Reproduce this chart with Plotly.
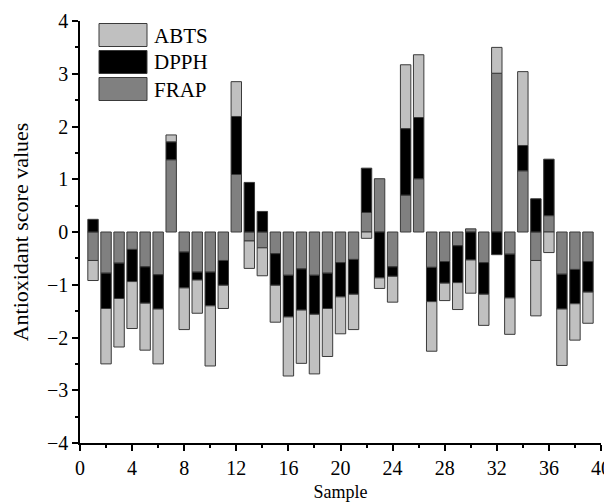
import plotly.graph_objects as go

samples = list(range(1, 40))
frap = [-0.54, -0.78, -0.59, -0.33, -0.66, -0.81, 1.37, -0.38, -0.76, -0.76,
        -0.54, 1.09, -0.17, -0.30, -0.41, -0.82, -0.70, -0.82, -0.78, -0.58,
        -0.52, 0.37, 1.01, -0.66, 0.70, 1.01, -0.67, -0.56, -0.26, 0.06,
        -0.58, 3.01, -0.42, 1.16, -0.54, 0.31, -0.80, -0.71, -0.56]
dpph = [0.24, -0.67, -0.67, -0.61, -0.69, -0.65, 0.34, -0.68, -0.15, -0.64,
        -0.47, 1.10, 0.94, 0.39, -0.60, -0.79, -0.78, -0.74, -0.67, -0.65,
        -0.66, 0.84, -0.87, -0.18, 1.26, 1.16, -0.65, -0.41, -0.70, -0.53,
        -0.60, -0.43, -0.83, 0.48, 0.63, 1.07, -0.66, -0.65, -0.58]
abts = [-0.38, -1.05, -0.92, -0.89, -0.89, -1.04, 0.13, -0.79, -0.63, -1.14,
        -0.44, 0.66, -0.52, -0.53, -0.70, -1.12, -1.01, -1.13, -0.91, -0.70,
        -0.67, -0.12, -0.20, -0.49, 1.21, 1.19, -0.94, -0.33, -0.51, -0.63,
        -0.59, 0.49, -0.69, 1.40, -1.05, -0.39, -1.07, -0.69, -0.59]

series_names = ["FRAP", "DPPH", "ABTS"]
series_vals = [frap, dpph, abts]
colors = {"ABTS": "#c0c0c0", "DPPH": "#000000", "FRAP": "#808080"}
legend_order = ["ABTS", "DPPH", "FRAP"]

FONT = "Liberation Serif, Times New Roman, serif"
line_col = "#3a3a3a"

fig = go.Figure()
for name, vals in zip(series_names, series_vals):
    fig.add_trace(go.Bar(x=samples, y=vals, name=name, width=0.8,
                         marker=dict(color=colors[name],
                                     line=dict(color=line_col, width=1)),
                         showlegend=False))

# page has an 8px body margin, so the figure is drawn 8px smaller
OFF = 8
W, H = 612 - OFF, 504 - OFF
ml, mr, mt, mb = 80 - OFF, 11, 21 - OFF, 61
pw, ph = W - ml - mr, H - mt - mb
def px(x):  # page pixel -> paper
    return (x - OFF - ml) / pw
def py(y):
    return 1 - (y - OFF - mt) / ph

# custom legend (large swatches like the original)
box_x0, box_x1 = 99, 147
tops = [23.5, 50.5, 77.5]
for name, t in zip(legend_order, tops):
    fig.add_shape(type="rect", xref="paper", yref="paper",
                  x0=px(box_x0), x1=px(box_x1), y0=py(t + 23), y1=py(t),
                  fillcolor=colors[name], line=dict(color=line_col, width=1))
    fig.add_annotation(xref="paper", yref="paper", x=px(152), y=py(t + 12),
                       text=name, showarrow=False, xanchor="left", yanchor="middle",
                       font=dict(family=FONT, size=21, color="black"))

fig.update_layout(
    width=W, height=H,
    margin=dict(l=ml, r=mr, t=mt, b=mb),
    barmode="relative",
    plot_bgcolor="white", paper_bgcolor="white",
    font=dict(family=FONT, size=20, color="black"),
    showlegend=False,
)
fig.update_xaxes(range=[0, 40], tickmode="array", tickvals=list(range(0, 41, 4)),
                 ticks="outside", ticklen=6, tickwidth=1.5, tickcolor="black",
                 minor=dict(tickvals=list(range(2, 41, 4)), ticks="outside", ticklen=3,
                            tickwidth=1.5, tickcolor="black"),
                 showline=True, linecolor="black", linewidth=1.5, showgrid=False,
                 zeroline=False, automargin=False,
                 title=dict(text="Sample", font=dict(size=18), standoff=8),
                 tickfont=dict(size=20))
fig.update_yaxes(range=[-4, 4], tickmode="array", tickvals=list(range(-4, 5)),
                 ticktext=[str(v).replace("-", "\u2212") for v in range(-4, 5)],
                 ticks="outside", ticklen=6, tickwidth=1.5, tickcolor="black",
                 minor=dict(tickvals=[v + 0.5 for v in range(-4, 4)], ticks="outside",
                            ticklen=3, tickwidth=1.5, tickcolor="black"),
                 showline=True, linecolor="black", linewidth=1.5, showgrid=False,
                 zeroline=False, automargin=False,
                 title=dict(text="Antioxidant score values", font=dict(size=22), standoff=16),
                 tickfont=dict(size=20))

fig.write_html("out.html")
